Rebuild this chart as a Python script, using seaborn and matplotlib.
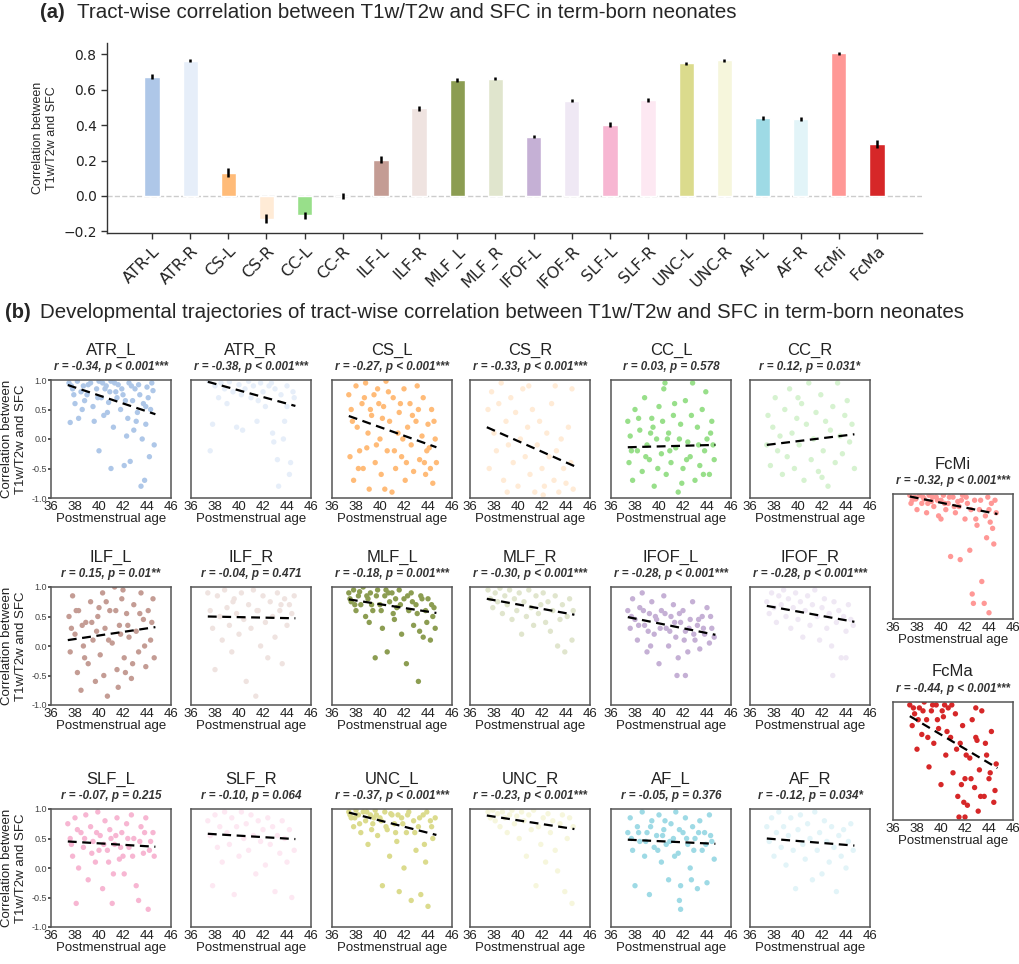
import numpy as np
import pandas as pd
import matplotlib
matplotlib.use("Agg")
import matplotlib.pyplot as plt
import seaborn as sns

# ---- (a) bar data -------------------------------------------------------
tract_labels = ["ATR-L", "ATR-R", "CS-L", "CS-R", "CC-L", "CC-R", "ILF-L", "ILF-R",
                "MLF_L", "MLF_R", "IFOF-L", "IFOF-R", "SLF-L", "SLF-R", "UNC-L", "UNC-R",
                "AF-L", "AF-R", "FcMi", "FcMa"]
bar_values = [0.675, 0.765, 0.13, -0.13, -0.11, 0.0, 0.205, 0.495, 0.655, 0.662,
              0.335, 0.538, 0.403, 0.542, 0.75, 0.767, 0.439, 0.437, 0.806, 0.294]
bar_err = [0.012, 0.01, 0.025, 0.025, 0.02, 0.015, 0.02, 0.012, 0.01, 0.008,
           0.01, 0.008, 0.015, 0.012, 0.01, 0.008, 0.012, 0.012, 0.008, 0.022]
tract_colors = ["#aec7e8", "#e6eef9", "#ffbb78", "#ffebd6", "#98df8a", "#d6f2d0",
                "#c49c94", "#efe3e0", "#8c9d52", "#e0e5cd", "#c5b0d5", "#efe8f4",
                "#f7b6d2", "#fde8f2", "#dbdb8d", "#f6f6dc", "#9edae5", "#e2f4f8",
                "#ff9896", "#d62728"]

# ---- (b) scatter data: "age value" pairs --------------------------------
ATR_L = """37.5 0.95 37.8 0.85 38.2 0.98 38.0 0.6 37.6 0.28 38.3 0.35 38.7 0.9 39.0 0.75
39.3 0.95 39.5 0.55 39.8 0.85 40.0 0.98 40.2 0.7 40.0 -0.2 40.4 0.4 40.6 0.9 40.8 0.62
41.0 0.98 41.0 -0.5 41.2 0.2 41.4 0.8 41.6 0.92 41.8 0.5 42.0 0.75 42.1 -0.45 42.3 0.05
42.5 0.95 42.6 -0.38 42.8 0.65 43.0 0.85 43.1 0.3 43.3 0.92 43.5 -0.8 43.6 0.0 43.7 0.6
43.8 -0.7 43.9 0.25 44.0 0.88 44.2 -0.3 44.3 0.5 44.5 0.82 44.6 -0.1 38.8 0.65 39.6 0.3
41.5 0.7 42.9 0.15 44.4 0.95 37.9 0.75 40.5 0.85 43.2 0.45
37.7 0.9 38.5 0.8 39.1 0.92 39.9 0.7 40.3 0.95 40.9 0.8 41.3 0.95 41.9 0.85 42.2 0.65
42.7 0.9 43.4 0.75 43.9 0.55 44.1 0.7 38.6 0.5 40.7 0.45 42.4 0.35"""
ATR_R = """37.5 0.98 38.0 0.9 38.5 0.95 37.8 0.25 37.6 -0.2 38.8 0.85 39.2 0.97 39.5 0.8
39.8 0.2 40.0 0.92 40.3 0.15 40.5 0.85 40.8 0.98 41.0 0.7 41.2 0.9 41.5 0.3 41.8 0.95
42.0 0.8 42.2 0.55 42.5 0.9 42.8 0.1 42.9 -0.05 43.0 0.85 43.2 -0.35 43.3 -0.8 43.5 0.75
43.7 0.0 44.0 0.9 44.2 -0.6 44.3 -0.4 44.5 0.8 44.0 0.55 43.8 0.3 39.0 0.6 40.2 0.75
41.6 0.65 42.7 0.95 38.3 0.7 44.6 0.7"""
CS_L = """37.4 0.75 37.5 -0.3 37.6 0.5 37.8 -0.7 38.0 0.9 38.1 0.2 38.3 -0.2 38.5 0.6
38.6 -0.5 38.8 0.95 39.0 0.1 39.1 -0.85 39.3 0.4 39.5 0.75 39.6 -0.4 39.8 0.85 40.0 0.0
40.1 -0.6 40.3 0.55 40.5 0.98 40.6 -0.2 40.8 0.3 41.0 -0.9 41.1 0.7 41.3 -0.5 41.5 0.1
41.6 0.45 41.8 -0.3 42.0 0.85 42.1 -0.7 42.3 0.2 42.5 0.6 42.6 -0.1 42.8 -0.55 43.0 0.3
43.1 0.9 43.3 -0.35 43.5 0.05 43.6 0.7 43.8 -0.6 44.0 0.25 44.1 -0.15 44.3 0.5 44.4 -0.75
44.6 0.0 44.7 -0.4 39.9 0.6 41.9 0.0 43.9 -0.2 38.9 -0.15
37.7 0.3 38.2 -0.5 38.7 0.7 39.2 0.5 39.7 -0.1 40.2 0.35 40.7 0.8 41.2 -0.2 41.7 0.6
42.2 -0.4 42.7 0.4 43.2 0.5 43.7 -0.4 44.2 -0.5 44.5 0.3 40.4 -0.85"""
CS_R = """37.5 0.5 37.6 -0.5 37.8 0.8 38.0 0.1 38.2 -0.2 38.4 0.6 38.6 0.95 38.8 -0.7
39.0 0.3 39.2 -0.1 39.4 0.7 39.6 -0.4 39.8 0.45 40.0 -0.8 40.2 0.0 40.4 0.85 40.6 -0.3
40.8 0.2 41.0 -0.6 41.2 0.5 41.4 -0.9 41.6 -0.1 41.8 0.3 42.0 -0.5 42.2 -0.8 42.4 0.1
42.6 -0.3 42.8 0.6 43.0 -0.7 43.2 -0.2 43.4 -0.9 43.6 0.0 43.8 -0.5 44.0 -0.75 44.2 0.2
44.4 -0.4 44.6 -0.85 39.1 -0.9 40.9 0.9 43.1 0.9 42.1 -0.95 44.5 0.85"""
CC_L = """37.4 0.3 37.5 -0.4 37.6 0.05 37.8 -0.7 38.0 0.5 38.2 -0.2 38.4 0.15 38.6 -0.55
38.8 0.7 39.0 -0.1 39.2 -0.35 39.4 0.35 39.6 -0.8 39.8 0.0 40.0 0.55 40.2 -0.25 40.4 0.85
40.6 -0.6 40.8 0.1 41.0 -0.4 41.2 0.4 41.4 -0.15 41.6 -0.9 41.8 0.25 42.0 -0.5 42.2 0.65
42.4 -0.05 42.6 -0.3 42.8 0.95 43.0 -0.7 43.2 0.2 43.4 -0.45 43.6 0.5 43.8 -0.2 44.0 0.0
44.2 -0.6 44.4 0.3 44.6 -0.35 40.5 0.95 41.9 -0.75 39.5 0.2 43.9 0.8
37.7 -0.2 38.3 0.35 38.9 -0.3 39.3 0.1 39.9 -0.5 40.3 0.3 40.9 -0.2 41.3 0.6 41.7 0.0
42.3 -0.35 42.7 0.4 43.3 -0.1 43.7 -0.6 44.3 0.1 44.5 -0.1 40.7 0.0"""
CC_R = """37.4 -0.1 37.5 0.4 37.7 -0.45 37.9 0.2 38.1 0.7 38.3 -0.2 38.5 0.05 38.7 -0.6
38.9 0.5 39.1 -0.3 39.3 0.85 39.5 0.1 39.7 -0.5 39.9 0.35 40.1 -0.1 40.3 0.6 40.5 -0.7
40.7 0.25 40.9 0.95 41.1 -0.35 41.3 0.0 41.5 0.45 41.7 -0.55 41.9 0.75 42.1 -0.2 42.3 0.3
42.5 -0.8 42.7 0.15 42.9 0.55 43.1 -0.4 43.3 0.95 43.5 0.05 43.7 -0.25 43.9 0.4 44.1 0.65
44.3 -0.05 44.5 0.25 44.7 -0.5 40.0 0.7 42.0 -0.65"""
ILF_L = """37.5 0.5 37.6 -0.1 37.8 0.85 38.0 0.2 38.2 -0.45 38.3 0.6 38.5 -0.75 38.7 0.0
38.9 0.4 39.1 -0.3 39.3 0.75 39.5 0.1 39.7 -0.6 39.9 0.5 40.1 -0.15 40.3 0.9 40.5 0.3
40.7 -0.85 40.9 0.6 41.1 0.05 41.3 1.0 41.5 -0.4 41.7 0.35 41.9 0.8 42.1 -0.2 42.3 0.55
42.5 0.15 42.7 -0.55 42.9 0.7 43.1 0.25 43.3 -0.1 43.5 0.9 43.7 0.45 43.9 -0.35 44.1 0.6
44.3 0.1 44.5 0.8 44.6 -0.2 40.0 0.65 42.0 0.95 38.6 0.35 41.6 -0.7
37.7 0.3 38.1 0.6 38.8 -0.2 39.4 0.4 39.8 0.25 40.4 -0.5 40.8 0.1 41.4 0.6 41.8 0.2
42.4 0.35 42.8 -0.3 43.4 0.55 43.8 0.0 44.4 0.4 40.6 0.75 42.2 -0.45"""
ILF_R = """37.4 0.9 37.6 0.6 37.8 0.3 38.0 -0.4 38.2 0.85 38.4 0.5 38.6 0.1 38.8 0.95
39.0 0.65 39.2 0.35 39.4 -0.1 39.6 0.8 39.8 0.55 40.0 0.2 40.2 0.9 40.4 0.45 40.6 -0.6
40.8 0.7 41.0 0.3 41.2 0.95 41.4 -0.85 41.6 0.6 41.8 0.0 42.0 0.85 42.2 0.4 42.4 -0.2
42.6 0.75 42.8 0.5 43.0 0.15 43.2 0.9 43.4 0.6 43.6 -0.3 43.8 0.8 44.0 0.35 44.2 0.7
44.4 0.55 44.6 0.85 39.5 0.75 41.5 0.6 43.5 0.7"""
MLF_L = """37.4 0.9 37.6 0.75 37.8 0.95 38.0 0.6 38.2 0.85 38.4 0.7 38.6 1.0 38.8 0.5
39.0 0.8 39.2 0.9 39.4 0.6 39.6 -0.2 39.8 0.95 40.0 0.7 40.2 0.3 40.4 0.85 40.6 -0.1
40.8 0.75 41.0 0.9 41.2 0.45 41.4 0.65 41.6 0.95 41.8 0.2 42.0 0.8 42.2 -0.3 42.4 0.6
42.6 0.9 42.8 0.35 43.0 0.7 43.2 -0.6 43.4 0.85 43.6 0.15 43.8 0.6 44.0 0.8 44.2 0.1
44.4 0.5 44.6 0.3 39.1 0.4 41.1 0.55 43.3 0.25 44.3 0.7 40.5 0.95
37.5 0.8 37.9 0.7 38.3 0.92 38.9 0.85 39.3 0.7 39.7 0.85 40.1 0.6 40.7 0.9 41.3 0.8
41.7 0.7 42.3 0.85 42.7 0.75 43.1 0.55 43.5 0.8 43.9 0.4 44.5 0.65"""
MLF_R = """37.5 0.95 37.7 0.8 37.9 0.65 38.1 0.9 38.3 0.75 38.5 0.98 38.7 0.55 38.9 0.85
39.1 0.7 39.3 0.95 39.5 0.45 39.7 0.8 39.9 0.6 40.1 0.9 40.3 0.2 40.5 0.75 40.7 0.5
40.9 0.95 41.1 0.65 41.3 0.35 41.5 0.85 41.7 0.55 41.9 0.7 42.1 0.9 42.3 0.4 42.5 0.75
42.7 0.25 42.9 0.6 43.1 0.85 43.3 0.0 43.5 0.45 43.7 0.7 43.9 -0.1 44.1 0.5 44.3 0.8
44.5 0.1 44.6 0.6"""
IFOF_L = """37.4 0.6 37.6 0.3 37.8 0.8 38.0 0.45 38.2 0.1 38.4 0.65 38.6 0.9 38.8 0.35
39.0 -0.1 39.2 0.55 39.4 0.75 39.6 0.2 39.8 0.45 40.0 -0.3 40.2 0.6 40.4 0.85 40.6 0.3
40.8 0.0 41.0 0.5 41.2 0.7 41.4 0.15 41.6 -0.2 41.8 0.4 42.0 0.6 42.2 0.25 42.4 -0.1
42.6 0.45 42.8 0.75 43.0 0.1 43.2 0.35 43.4 -0.05 43.6 0.5 43.8 0.2 44.0 0.65 44.2 0.05
44.4 0.3 44.6 0.15 41.5 -0.5 42.2 -0.5 39.3 0.0
37.7 0.5 38.3 0.35 38.7 0.6 39.1 0.25 39.7 0.5 40.1 0.3 40.5 0.55 40.9 0.25 41.3 0.4
41.7 0.55 42.1 0.1 42.5 0.3 42.9 0.2 43.3 0.45 43.7 0.3 44.3 0.5"""
IFOF_R = """37.4 0.75 37.6 0.55 37.8 0.9 38.0 0.65 38.2 0.4 38.4 0.85 38.6 0.7 38.8 0.95
39.0 0.5 39.2 0.8 39.4 0.3 39.6 0.65 39.8 0.9 40.0 0.45 40.2 0.75 40.4 0.15 40.6 0.6
40.8 0.85 41.0 0.35 41.2 0.7 41.4 0.95 41.6 0.5 41.8 0.1 42.0 0.65 42.2 0.8 42.4 0.3
42.6 0.55 42.8 0.0 43.0 0.75 43.2 0.4 43.4 0.6 43.6 -0.2 43.8 0.5 44.0 0.25 44.2 0.7
44.4 0.45 44.6 0.35 42.9 -0.5 44.0 -0.2"""
SLF_L = """37.4 0.75 37.6 0.5 37.8 0.2 38.0 0.85 38.1 -0.6 38.3 0.0 38.5 0.6 38.7 0.35
38.9 0.9 39.1 -0.2 39.3 0.7 39.5 0.45 39.7 0.1 39.9 0.95 40.1 0.55 40.3 -0.35 40.5 0.8
40.7 0.3 40.9 0.65 41.1 -0.6 41.3 0.4 41.5 0.85 41.7 0.15 41.9 0.6 42.1 -0.1 42.3 0.75
42.5 0.35 42.7 0.9 42.9 0.5 43.1 -0.3 43.3 -0.55 43.5 0.7 43.7 0.25 43.9 0.85 44.1 -0.7
44.3 0.45 44.5 0.6 40.0 0.3 41.0 0.5 42.0 0.2
37.7 0.4 38.2 0.65 38.8 0.5 39.4 0.25 39.8 0.6 40.4 0.4 40.8 0.1 41.4 0.55 41.8 0.35
42.4 0.5 42.8 0.2 43.4 0.45 43.8 0.6 44.2 0.3 44.6 0.2 41.2 -0.1"""
SLF_R = """37.4 0.8 37.6 0.55 37.8 -0.3 38.0 0.9 38.2 0.35 38.4 0.7 38.6 0.1 38.8 0.95
39.0 0.6 39.2 0.4 39.4 0.85 39.6 -0.45 39.8 0.7 40.0 0.2 40.2 0.95 40.4 0.5 40.6 0.75
40.8 0.3 41.0 0.9 41.2 0.55 41.4 -0.1 41.6 0.8 41.8 0.45 42.0 0.65 42.2 0.05 42.4 0.85
42.6 0.4 42.8 0.7 43.0 -0.4 43.2 0.55 43.4 0.25 43.6 0.8 43.8 0.5 44.0 0.1 44.2 0.65
44.4 -0.5 44.6 0.3"""
UNC_L = """37.4 0.95 37.6 0.85 37.8 0.7 38.0 0.98 38.2 0.9 38.4 0.6 38.6 0.95 38.8 0.8
39.0 0.4 39.2 0.9 39.4 0.75 39.6 0.98 39.8 0.55 40.0 0.85 40.2 -0.3 40.4 0.95 40.6 0.65
40.8 0.2 41.0 0.9 41.2 0.75 41.4 0.45 41.6 -0.4 41.8 0.85 42.0 0.0 42.2 0.6 42.4 0.95
42.6 -0.55 42.8 0.8 43.0 0.3 43.2 0.7 43.4 -0.45 43.6 0.9 43.8 0.1 44.0 -0.65 44.2 0.8
44.4 0.5 44.6 0.85 41.5 0.9 43.9 0.95 39.5 0.85
37.5 0.9 37.9 0.85 38.3 0.75 38.9 0.95 39.3 0.65 39.7 0.9 40.1 0.8 40.5 0.7 40.9 0.92
41.3 0.6 41.9 0.75 42.3 0.9 42.9 0.6 43.3 0.85 43.7 0.4 44.3 0.7"""
UNC_R = """37.5 0.95 37.7 0.85 37.9 0.98 38.1 0.8 38.3 0.92 38.5 0.7 38.7 0.95 38.9 0.85
39.1 0.6 39.3 0.9 39.5 0.98 39.7 0.75 39.9 0.88 40.1 0.5 40.3 0.95 40.5 0.8 40.7 0.2
40.9 0.9 41.1 0.65 41.3 0.98 41.5 -0.3 41.7 0.7 41.9 0.4 42.1 0.85 42.3 0.1 42.5 0.92
42.7 0.6 42.9 0.8 43.1 0.3 43.3 -0.05 43.5 0.75 43.7 0.9 43.9 -0.4 44.1 0.5 44.3 0.85
44.5 -0.6 44.6 0.7"""
AF_L = """37.4 0.6 37.6 0.85 37.8 0.3 38.0 -0.3 38.2 0.7 38.4 0.45 38.6 0.95 38.8 0.2
39.0 0.6 39.2 -0.45 39.4 0.8 39.6 0.35 39.8 0.55 40.0 0.9 40.2 0.1 40.4 0.65 40.6 0.4
40.8 -0.2 41.0 0.75 41.2 0.5 41.4 0.95 41.6 0.25 41.8 -0.3 42.0 0.6 42.2 0.85 42.4 0.4
42.6 0.0 42.8 0.7 43.0 0.5 43.2 -0.35 43.4 0.8 43.6 0.3 43.8 0.6 44.0 -0.25 44.2 0.9
44.4 0.45 44.6 0.15 41.7 -0.55 41.8 -0.7
37.7 0.5 38.3 0.6 38.9 0.45 39.3 0.7 39.9 0.3 40.3 0.55 40.9 0.45 41.3 0.2 41.7 0.65
42.3 0.5 42.9 0.3 43.3 0.6 43.9 0.4 44.3 0.55 40.5 0.8 42.7 -0.2"""
AF_R = """37.4 0.7 37.6 0.45 37.8 0.85 38.0 0.2 38.2 0.6 38.4 0.95 38.6 0.35 38.8 0.7
39.0 0.05 39.2 0.55 39.4 0.85 39.6 0.3 39.8 -0.35 40.0 0.65 40.2 0.9 40.4 0.4 40.6 0.15
40.8 0.75 41.0 0.5 41.2 -0.2 41.4 0.95 41.6 0.3 41.8 0.6 42.0 -0.1 42.2 0.8 42.4 0.45
42.6 0.1 42.8 0.7 43.0 0.35 43.2 -0.4 43.4 0.55 43.6 0.2 43.8 0.65 44.0 0.0 44.2 0.45
44.4 0.75 44.6 0.3"""
FcMi = """37.4 0.98 37.6 0.9 37.8 0.95 38.0 0.75 38.2 0.98 38.4 0.85 38.6 0.92 38.8 0.7
39.0 0.98 39.2 0.88 39.4 0.8 39.6 0.95 39.8 0.65 40.0 0.9 40.2 0.98 40.4 0.75 40.6 0.85
40.8 0.0 41.0 0.95 41.2 0.7 41.4 0.88 41.6 -0.05 41.8 0.98 42.0 0.6 42.2 0.85 42.4 0.1
42.6 -0.6 42.7 -0.75 42.8 0.9 43.0 0.5 43.2 0.75 43.4 -0.4 43.6 -0.75 43.8 0.3 44.0 -0.9
44.1 0.55 44.2 0.85 44.4 0.2 44.6 0.7 43.9 0.95 41.5 0.8 40.0 0.6
37.5 0.85 37.9 0.92 38.5 0.95 38.9 0.85 39.3 0.95 39.7 0.9 40.3 0.85 40.7 0.95 41.1 0.8
41.7 0.9 42.1 0.95 42.5 0.75 42.9 0.6 43.3 0.9 43.7 0.65 44.3 0.45 44.5 0.9 44.0 0.75"""
FcMa = """37.4 0.95 37.6 0.6 37.8 0.8 38.0 0.2 38.2 0.9 38.4 0.45 38.6 1.0 38.8 0.7
39.0 -0.1 39.2 0.85 39.4 0.3 39.6 0.95 39.8 0.55 40.0 -0.4 40.2 0.75 40.4 0.1 40.6 0.9
40.8 0.4 41.0 -0.2 41.2 0.8 41.4 -0.6 41.6 0.3 41.8 0.6 42.0 -0.3 42.2 -0.75 42.4 0.05
42.6 0.7 42.8 -0.45 43.0 0.35 43.2 -0.15 43.4 0.85 43.6 -0.6 43.8 0.1 44.0 -0.3 44.2 0.5
44.4 -0.7 44.6 -0.05 41.5 -0.95 42.0 -0.95 40.3 0.95 42.9 0.9
37.7 0.9 38.1 0.7 38.5 0.85 38.9 0.4 39.3 0.95 39.7 0.7 40.1 0.85 40.5 0.5 40.9 0.95
41.3 0.2 41.7 -0.4 42.1 0.1 42.5 -0.3 42.9 0.4 43.3 -0.6 43.7 0.3 44.1 -0.2 44.5 -0.5
41.9 -0.7 43.1 -0.85"""

panel_names = ["ATR_L", "ATR_R", "CS_L", "CS_R", "CC_L", "CC_R",
               "ILF_L", "ILF_R", "MLF_L", "MLF_R", "IFOF_L", "IFOF_R",
               "SLF_L", "SLF_R", "UNC_L", "UNC_R", "AF_L", "AF_R", "FcMi", "FcMa"]
panel_points = [ATR_L, ATR_R, CS_L, CS_R, CC_L, CC_R, ILF_L, ILF_R, MLF_L, MLF_R,
                IFOF_L, IFOF_R, SLF_L, SLF_R, UNC_L, UNC_R, AF_L, AF_R, FcMi, FcMa]
panel_stats = ["r = -0.34, p < 0.001***", "r = -0.38, p < 0.001***",
               "r = -0.27, p < 0.001***", "r = -0.33, p < 0.001***",
               "r = 0.03, p = 0.578", "r = 0.12, p = 0.031*",
               "r = 0.15, p = 0.01**", "r = -0.04, p = 0.471",
               "r = -0.18, p = 0.001***", "r = -0.30, p < 0.001***",
               "r = -0.28, p < 0.001***", "r = -0.28, p < 0.001***",
               "r = -0.07, p = 0.215", "r = -0.10, p = 0.064",
               "r = -0.37, p < 0.001***", "r = -0.23, p < 0.001***",
               "r = -0.05, p = 0.376", "r = -0.12, p = 0.034*",
               "r = -0.32, p < 0.001***", "r = -0.44, p < 0.001***"]
# fitted line read at the ends of the age range
trend_ages = [37.4, 44.7]
trend_start = [0.915, 0.97, 0.39, 0.20, -0.14, -0.10, 0.10, 0.50, 0.79, 0.80,
               0.49, 0.68, 0.45, 0.58, 0.94, 0.89, 0.48, 0.50, 0.96, 0.76]
trend_end = [0.42, 0.56, -0.14, -0.46, -0.10, 0.08, 0.32, 0.47, 0.56, 0.53,
             0.19, 0.41, 0.36, 0.49, 0.56, 0.66, 0.41, 0.38, 0.68, -0.12]
age_ticks = [36, 38, 40, 42, 44, 46]
corr_ticks = [-1.0, -0.5, 0.0, 0.5, 1.0]

# ---- styling ------------------------------------------------------------
sns.set_theme(style="white")
plt.rcParams['font.family'] = ['Liberation Sans', 'DejaVu Sans']
W, H = 1020, 964
fig = plt.figure(figsize=(W / 100, H / 100), dpi=100)

def box(left, top, width, height):
    return [left / W, 1 - (top + height) / H, width / W, height / H]

# ---- (a) ----------------------------------------------------------------
fig.text(40 / W, 1 - 13 / H, "(a)", fontsize=14.5, fontweight="bold", va="center")
fig.text(77 / W, 1 - 13 / H, "Tract-wise correlation between T1w/T2w and SFC in term-born neonates",
         fontsize=14.8, va="center")

ax = fig.add_axes(box(107, 43, 815, 190))
bar_df = pd.DataFrame({"tract": tract_labels, "value": bar_values})
sns.barplot(data=bar_df, x="tract", y="value", hue="tract", palette=tract_colors,
            saturation=1, legend=False, width=0.4, ax=ax)
ax.errorbar(np.arange(len(tract_labels)), bar_values, yerr=bar_err, fmt="none",
            ecolor="black", elinewidth=1.8, capsize=0, zorder=5)
ax.axhline(0, color="#cccccc", ls="--", lw=1, zorder=0)
ax.set_xlim(-1.18, len(tract_labels) - 1 + 1.18)
ax.set_ylim(-0.21, 0.865)
ax.set_yticks([-0.2, 0.0, 0.2, 0.4, 0.6, 0.8])
ax.set_xlabel("")
ax.set_ylabel("Correlation between\nT1w/T2w and SFC", fontsize=9)
ax.set_xticks(range(len(tract_labels)))
ax.set_xticklabels(tract_labels, rotation=45, ha="right", rotation_mode="anchor",
                   family="DejaVu Sans")
for lab in ax.get_yticklabels():
    lab.set_family("DejaVu Sans")
ax.tick_params(axis="y", labelsize=10)
ax.tick_params(axis="x", labelsize=11.5)
ax.tick_params(axis="both", length=4, width=1, color="#333333",
               labelcolor="#222222", bottom=True, left=True)
sns.despine(ax=ax)
for s in ["left", "bottom"]:
    ax.spines[s].set_color("#333333")
    ax.spines[s].set_linewidth(1)

# ---- (b) ----------------------------------------------------------------
fig.text(5 / W, 1 - 313 / H, "(b)", fontsize=14.5, fontweight="bold", va="center")
fig.text(40 / W, 1 - 313 / H,
         "Developmental trajectories of tract-wise correlation between T1w/T2w and SFC in term-born neonates",
         fontsize=14.8, va="center")

col_left = [51, 191, 332, 470, 611, 750]
row_top = [380, 587, 809]
pw = 120
positions = []
for r in range(3):
    for c in range(6):
        positions.append((col_left[c], row_top[r], 118, c == 0))
positions.append((893, 494, 125, False))
positions.append((893, 702, 118, False))

for i, name in enumerate(panel_names):
    left, top, ph, first_col = positions[i]
    pts = np.array(panel_points[i].split(), dtype=float).reshape(-1, 2)
    df = pd.DataFrame({"age": pts[:, 0], "corr": pts[:, 1]})
    a = fig.add_axes(box(left, top, pw, ph))
    sns.scatterplot(data=df, x="age", y="corr", color=tract_colors[i], s=15,
                    edgecolor="none", legend=False, ax=a)
    a.plot(trend_ages, [trend_start[i], trend_end[i]], color="black",
           ls=(0, (4, 2.5)), lw=1.6)
    a.set_xlim(36, 46)
    a.set_ylim(-1, 1)
    a.set_xticks(age_ticks)
    a.tick_params(axis="x", labelsize=9.5, length=0, pad=2, labelcolor="#222222")
    a.set_xlabel("Postmenstrual age", fontsize=9.5, labelpad=0, color="#222222")
    if first_col:
        a.set_yticks(corr_ticks)
        a.set_yticklabels(["-1.0", "-0.5", "0.0", "0.5", "1.0"])
        a.tick_params(axis="y", labelsize=6.5, length=2, pad=1, left=True,
                      labelcolor="#444444", color="#444444")
        a.set_ylabel("Correlation between\nT1w/T2w and SFC", fontsize=9.5,
                     labelpad=3, color="#222222")
    else:
        a.set_yticks([])
        a.set_ylabel("")
    for s in a.spines.values():
        s.set_color("#555555")
        s.set_linewidth(1.1)
    a.text(0.5, 1 + 30 / ph, name, transform=a.transAxes, ha="center", va="center",
           fontsize=12, color="#222222")
    a.text(0.5, 1 + 13 / ph, panel_stats[i], transform=a.transAxes, ha="center",
           va="center", fontsize=8.4, style="italic", fontweight="bold", color="#333333")

fig.savefig("out.png", dpi=100)
